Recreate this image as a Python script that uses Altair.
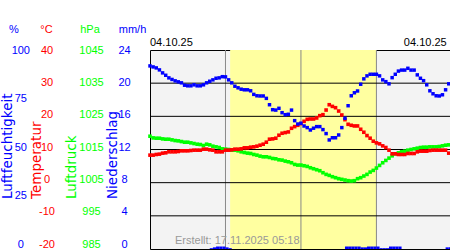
import altair as alt
import pandas as pd

# 15-minute sampling grid (hours of the day)
times = [i * 0.25 for i in range(96)]

humidity = [92, 91.5, 91, 90, 88.5, 87.3, 86, 85.2, 84.5, 84, 83.5, 82.3, 82, 82, 82.5, 82,
            82, 82.5, 83.5, 84.3, 85, 85.8, 86, 86.6, 86.5, 85, 83.5, 81.8, 81, 80.3, 80, 80,
            79.5, 77.7, 77, 76.9, 76.9, 75.7, 72.5, 70, 69.8, 70.7, 68.5, 67.5, 67.7, 69.8, 64.5, 62.8,
            63.2, 61.8, 61, 59.8, 60.7, 61.5, 61.5, 60, 58, 54.8, 55.9, 55.9, 57.3, 61, 65.7, 72,
            77, 78.5, 79.4, 82.8, 85.5, 87, 87.8, 87.8, 87.8, 87, 85, 84.1, 83, 86.1, 87.8, 89.4,
            89.9, 89.9, 90.8, 89.9, 89.9, 87.5, 85.8, 84.6, 82.5, 79.5, 78, 77, 76.9, 77.5, 80, 83]

temperature = [8.3, 8.3, 8.5, 8.6, 8.9, 9.0, 9.3, 9.3, 9.3, 9.4, 9.6, 9.6, 9.6, 9.7, 9.8, 9.8,
               9.8, 10.1, 10.1, 9.9, 9.8, 9.3, 9.3, 9.3, 9.8, 9.8, 9.9, 10.1, 10.1, 10.2, 10.5, 10.5,
               10.7, 10.8, 11.0, 11.3, 11.6, 12.2, 13.1, 13.2, 13.4, 14.3, 14.9, 15.1, 15.3, 16.4, 16.9, 17.3,
               17.8, 18.5, 19.1, 19.2, 19.2, 19.5, 20.2, 20.5, 21.9, 23.5, 23.0, 22.6, 21.6, 20.4, 19.0, 17.6,
               17.3, 17.1, 17.1, 16.1, 15.2, 14.2, 13.4, 12.5, 12.0, 11.7, 11.1, 10.6, 9.8, 8.7, 8.7, 8.5,
               8.5, 8.5, 8.8, 8.8, 8.8, 9.3, 9.5, 9.5, 9.5, 9.7, 9.8, 9.8, 9.8, 9.8, 9.8, 8.9]

pressure = [1019.0, 1018.5, 1018.4, 1018.4, 1018.2, 1018.1, 1018.1, 1017.9, 1017.7, 1017.6, 1017.4, 1017.2,
            1017.2, 1017.0, 1016.8, 1016.6, 1016.5, 1016.2, 1016.6, 1016.4, 1016.0, 1015.8, 1015.6, 1015.2,
            1015.1, 1015.0, 1014.8, 1014.8, 1014.6, 1014.3, 1014.1, 1013.9,
            1013.8, 1013.5, 1013.3, 1013.0, 1012.8, 1012.8, 1012.6, 1012.3, 1012.2, 1011.9, 1011.8, 1011.5,
            1011.3, 1011.0, 1010.5, 1010.3, 1010.3, 1010.1, 1009.9, 1009.5, 1009.2, 1008.9, 1008.6, 1008.0,
            1007.5, 1007.2, 1006.8, 1006.5, 1006.2, 1006.0, 1005.8, 1005.6,
            1005.5, 1005.6, 1006.2, 1006.5, 1007.0, 1007.5, 1008.2, 1008.7, 1009.4, 1010.2, 1011.0, 1011.7,
            1012.4, 1013.1, 1013.7, 1014.0, 1014.3, 1014.5, 1014.8, 1015.0, 1015.2, 1015.4, 1015.6, 1015.7,
            1015.7, 1015.8, 1015.8, 1015.8, 1015.9, 1016.1, 1016.3, 1016.4]

precip = [0] * 19 + [0.1, 0.2, 0.3, 0.3, 0.3, 0.2, 0.1] + [0] * 36 + \
         [0.3, 0.3, 0.3, 0.3, 0.3, 0.2, 0.2, 0.3, 0.3, 0.3, 0.3, 0.1, 0.1, 0.1, 0.3, 0.3, 0.3, 0.3] + \
         [0] * 14 + [0.2, 0.2]

day_start = [6.37]
day_end = [17.97]
hour_marks = [6, 12, 18]
temp_grid = [-10, 0, 10, 20, 30]
hum_ticks = [0, 25, 50, 75, 100]
temp_ticks = [-20, -10, 0, 10, 20, 30, 40]
pres_ticks = [985, 995, 1005, 1015, 1025, 1035, 1045]
prec_ticks = [0, 4, 8, 12, 16, 20, 24]

BLUE = "#0000ff"
RED = "#ff0000"
GREEN = "#00ff00"
LAB_FONT = "Liberation Sans"
TITLE_FONT = "DejaVu Sans"

df = pd.DataFrame({"h": times, "hum": humidity, "temp": temperature,
                   "pres": pressure, "rain": precip})
df["h2"] = df["h"] + 0.25

xscale = alt.Scale(domain=[0, 23.85], nice=False, zero=False)
xnone = alt.X("h:Q", scale=xscale, axis=None)

band = alt.Chart(pd.DataFrame({"s": day_start, "e": day_end})).mark_rect(color="#ffffa0").encode(
    x=alt.X("s:Q", scale=xscale, axis=None), x2="e:Q")

vlines = alt.Chart(pd.DataFrame({"h": hour_marks})).mark_rule(color="#888888", strokeWidth=1).encode(
    x=alt.X("h:Q", scale=xscale,
            axis=alt.Axis(orient="top", values=hour_marks,
                          labelExpr="(datum.value < 10 ? '0' : '') + datum.value + ':00'",
                          ticks=False, tickSize=0, domain=False, grid=False,
                          labelPadding=14, labelColor="#8c8c8c", labelFont=LAB_FONT,
                          labelFontSize=11, labelOffset=-2.5, title=None)))

hgrid = alt.Chart(pd.DataFrame({"t": temp_grid})).mark_rule(color="black", strokeWidth=1).encode(
    y=alt.Y("t:Q", scale=alt.Scale(domain=[-20, 40], nice=False, zero=False), axis=None))

rain = alt.Chart(df).transform_filter("datum.rain > 0").mark_rect(color=BLUE).encode(
    x=xnone, x2="h2:Q",
    y=alt.Y("rain:Q", scale=alt.Scale(domain=[0, 24], nice=False, zero=False), axis=None),
    y2=alt.datum(0))

pres = alt.Chart(df).mark_square(size=13, color=GREEN, opacity=1).encode(
    x=xnone, y=alt.Y("pres:Q", scale=alt.Scale(domain=[985, 1045], nice=False, zero=False), axis=None))

temp = alt.Chart(df).mark_square(size=13, color=RED, opacity=1).encode(
    x=xnone, y=alt.Y("temp:Q", scale=alt.Scale(domain=[-20, 40], nice=False, zero=False), axis=None))

hum = alt.Chart(df).mark_square(size=12, color=BLUE, opacity=1).encode(
    x=xnone, y=alt.Y("hum:Q", scale=alt.Scale(domain=[0, 100], nice=False, zero=False), axis=None))


def axis_layer(values, color, pad):
    return alt.Chart(pd.DataFrame({"v": values})).mark_point(opacity=0).encode(
        y=alt.Y("v:Q",
                scale=alt.Scale(domain=[values[0], values[-1]], range=[194, 0], nice=False, zero=False),
                axis=alt.Axis(orient="left", values=values, ticks=False, tickSize=0, domain=False,
                              grid=False, labelPadding=pad, labelAlign="center", labelBaseline="middle",
                              labelColor=color, labelFont=LAB_FONT, labelFontSize=11,
                              labelOverlap=False, labelExpr="'' + datum.value", title=None)))


one = pd.DataFrame({"a": [0]})


def label(text, x, y, color, size=11, align="center", angle=0, font=LAB_FONT):
    return alt.Chart(one).mark_text(text=text, align=align, baseline="middle", angle=angle,
                                    color=color, fontSize=size, font=font).encode(
        x=alt.value(x), y=alt.value(y))


texts = [
    label("%", -136, -20, BLUE),
    label("°C", -103.5, -20, RED),
    label("hPa", -60, -20, GREEN),
    label("mm/h", -17.5, -20, BLUE),
    label("Luftfeuchtigkeit", -142.5, 149, BLUE, 13.5, "left", 270, TITLE_FONT),
    label("Temperatur", -113.5, 149, RED, 13.5, "left", 270, TITLE_FONT),
    label("Luftdruck", -78, 149, GREEN, 13.5, "left", 270, TITLE_FONT),
    label("Niederschlag", -36.7, 149, BLUE, 13.5, "left", 270, TITLE_FONT),
    label("04.10.25", 0, -7, "black", 11, "left"),
    label("04.10.25", 296.7, -7, "black", 11, "right"),
    label("Erstellt: 17.11.2025 05:18", 25, 190.5, "#999999", 11, "left"),
]

chart = alt.layer(
    band, vlines, hgrid, rain, pres, temp, hum,
    axis_layer(hum_ticks, BLUE, 129.7),
    axis_layer(temp_ticks, RED, 103.5),
    axis_layer(pres_ticks, GREEN, 59),
    axis_layer(prec_ticks, BLUE, 26),
    *texts
).resolve_scale(y="independent").properties(
    width=300, height=199,
    autosize=alt.AutoSizeParams(type="none"),
    padding={"left": 150, "top": 50, "right": 0, "bottom": 1},
).configure_view(fill="#f3f3f3", stroke="black", strokeWidth=1)

chart.save("out.html", embed_options={"renderer": "svg", "actions": False})
